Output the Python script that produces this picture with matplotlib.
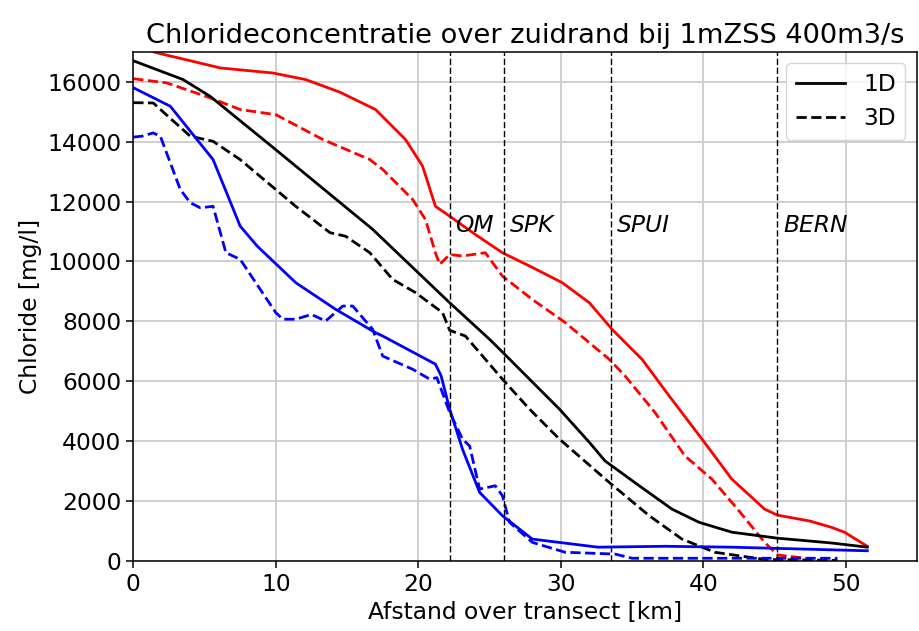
import numpy as np
import matplotlib.pyplot as plt

# Afstand [km] en chloride [mg/l] per reeks
x_rood_1d = [0, 1.7, 4.0, 6.1, 9.8, 12.1, 14.5, 17.0, 19.1, 20.3, 21.2, 22.2, 24.0, 25.9,
             28.0, 30.1, 32.0, 33.6, 35.7, 37.6, 39.9, 42.0, 44.3, 45.2, 47.5, 49.0, 49.9, 51.5]
y_rood_1d = [17200, 16960, 16700, 16460, 16290, 16070, 15650, 15070, 14070, 13180, 11840, 11510,
             10900, 10290, 9800, 9290, 8620, 7730, 6730, 5510, 4070, 2730, 1730, 1530, 1330, 1120, 960, 490]

x_rood_3d = [0, 0.5, 2.35, 5.4, 7.5, 10.0, 13.3, 16.6, 17.5, 19.6, 20.5, 21.2, 21.5, 22.2, 23.1,
             24.7, 25.9, 28.0, 30.3, 33.4, 34.5, 36.6, 38.7, 40.6, 42.4, 44.3, 45.2, 47.0]
y_rood_3d = [16100, 16070, 15960, 15460, 15070, 14900, 14070, 13400, 13070, 12070, 11400, 10290,
             9900, 10230, 10180, 10290, 9510, 8730, 7960, 6730, 6180, 4960, 3510, 2730, 1730, 620, 200, 100]

x_zwart_1d = [0, 3.5, 5.4, 10.0, 16.8, 22.2, 25.0, 25.7, 29.9, 32.0, 33.1, 35.5, 37.8, 39.7,
              42.0, 45.2, 49.0, 51.5]
y_zwart_1d = [16700, 16070, 15510, 13730, 11070, 8620, 7400, 7070, 5070, 3960, 3340, 2510, 1730, 1290,
              960, 760, 600, 460]

x_zwart_3d = [0, 1.4, 4.0, 5.6, 7.5, 11.4, 13.8, 14.9, 16.6, 18.2, 19.8, 21.7, 22.2, 23.3, 25.9,
              27.8, 29.9, 33.4, 36.2, 38.5, 40.8, 44.3, 49.4]
y_zwart_3d = [15300, 15290, 14180, 14010, 13400, 11840, 10960, 10840, 10290, 9400, 8960, 8290, 7700,
              7510, 6070, 5070, 4070, 2620, 1510, 730, 290, 50, 20]

x_blauw_1d = [0, 2.6, 5.6, 7.5, 8.7, 11.4, 14.2, 17.0, 17.5, 21.2, 21.6, 22.2, 23.1, 24.3, 25.9,
              28.0, 32.6, 37.3, 42.0, 51.5]
y_blauw_1d = [15800, 15180, 13400, 11180, 10510, 9290, 8400, 7620, 7510, 6570, 6180, 5070, 3730, 2290,
              1510, 730, 460, 490, 460, 340]

x_blauw_3d = [0, 0.6, 1.4, 1.9, 3.3, 4.0, 4.7, 5.6, 6.5, 7.5, 10.0, 10.5, 11.4, 12.5, 13.5, 14.7,
              15.4, 16.8, 17.5, 19.6, 20.8, 21.3, 22.2, 23.1, 23.6, 24.3, 25.4, 25.9, 26.4, 28.0,
              30.3, 33.8, 35.0, 49.4]
y_blauw_3d = [14150, 14180, 14290, 14180, 12400, 11960, 11790, 11840, 10290, 10070, 8290, 8070, 8070,
              8230, 8010, 8510, 8510, 7730, 6840, 6400, 6070, 6120, 4960, 4070, 3840, 2400, 2510,
              2180, 1290, 620, 290, 230, 90, 90]

# Locaties en namen van de verticale markeringen
locaties = [22.2, 26.0, 33.5, 45.2]
namen = ['OM', 'SPK', 'SPUI', 'BERN']

fs = 16.8

fig, ax = plt.subplots(figsize=(9.19, 6.31), dpi=100)

ax.plot(x_rood_1d, y_rood_1d, color='red', lw=2.0)
ax.plot(x_rood_3d, y_rood_3d, color='red', lw=2.0, ls='--')
ax.plot(x_zwart_1d, y_zwart_1d, color='black', lw=2.0, label='1D')
ax.plot(x_zwart_3d, y_zwart_3d, color='black', lw=2.0, ls='--', label='3D')
ax.plot(x_blauw_1d, y_blauw_1d, color='blue', lw=2.0)
ax.plot(x_blauw_3d, y_blauw_3d, color='blue', lw=2.0, ls='--')

for loc, naam in zip(locaties, namen):
    ax.axvline(loc, color='black', ls=(0, (4.5, 2)), lw=1.0)
    ax.text(loc + 0.4, 11200, naam, fontsize=fs, style='italic', va='center')

ax.set_xlim(0, 55)
ax.set_ylim(0, 17000)
ax.set_xticks([0, 10, 20, 30, 40, 50])
ax.set_yticks(np.arange(0, 16001, 2000))
ax.grid(True, color='#cccccc', lw=1.3)
ax.set_axisbelow(True)
ax.tick_params(labelsize=fs, length=5, width=1.1)
for sp in ax.spines.values():
    sp.set_linewidth(1.1)

ax.set_title('Chlorideconcentratie over zuidrand bij 1mZSS 400m3/s', fontsize=19.6)
ax.set_xlabel('Afstand over transect [km]', fontsize=fs)
ax.set_ylabel('Chloride [mg/l]', fontsize=fs)
ax.legend(loc='upper right', fontsize=fs, handlelength=2.1)

plt.subplots_adjust(left=0.145, right=0.998, top=0.918, bottom=0.111)
plt.savefig('out.png')
